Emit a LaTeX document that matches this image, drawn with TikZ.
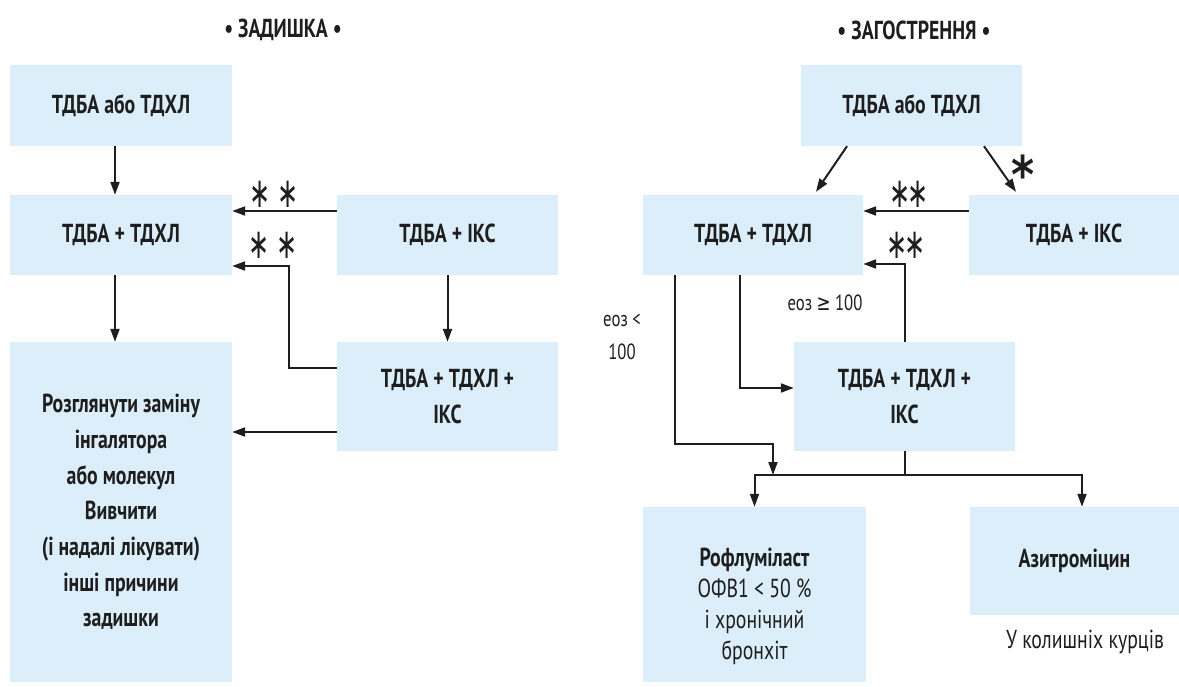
\documentclass[tikz,border=0pt]{standalone}
\usepackage{fontspec}
\setmainfont{PT Sans}[FakeStretch=0.76]
\newfontfamily\symfont{DejaVu Sans}[FakeStretch=0.76]
\newfontfamily\starfont{DejaVu Sans}[FakeStretch=0.6]
\newfontfamily\bigstarfont{DejaVu Sans}[FakeStretch=0.85]
\usetikzlibrary{arrows.meta,calc}
\definecolor{boxblue}{RGB}{220,238,250}
\definecolor{ink}{RGB}{30,30,30}
\tikzset{
 box/.style={fill=boxblue, draw=none, inner sep=0pt, align=center, text=ink,
   font=\bfseries\fontsize{26}{35.7}\selectfont},
 arr/.style={line width=2pt, draw=ink, -{Triangle[length=13pt,width=9pt]}},
 ln/.style={line width=2pt, draw=ink},
 lbl/.style={text=ink, font=\fontsize{22}{33}\selectfont, align=center, inner sep=0pt},
 ttl/.style={text=ink, font=\bfseries\fontsize{26}{30}\selectfont, inner sep=0pt},
 stars/.style={text=ink, font=\starfont\fontsize{42}{42}\selectfont, inner sep=0pt},
}
\begin{document}
\begin{tikzpicture}[x=1pt,y=-1pt]
\useasboundingbox (0,0) rectangle (1179,687);
% titles
\node[ttl] (t1) at (283,30) {• ЗАДИШКА •};
\node[ttl] (t2) at (914,30) {• ЗАГОСТРЕННЯ •};
% left boxes
\node[box, minimum width=222pt, minimum height=81pt] (A1) at (121,105.5) {ТДБА або ТДХЛ};
\node[box, minimum width=222pt, minimum height=80pt] (B1) at (121,235) {ТДБА + ТДХЛ};
\node[box, minimum width=221pt, minimum height=80pt] (K1) at (447.5,235) {ТДБА + ІКС};
\node[box, minimum width=222pt, minimum height=340pt] (Big) at (121,512)
  {Розглянути заміну\\інгалятора\\або молекул\\Вивчити\\(і надалі лікувати)\\інші причини\\задишки};
\node[box, minimum width=221pt, minimum height=109pt] (K2) at (447.5,396.5) {ТДБА + ТДХЛ +\\ІКС};
% right boxes
\node[box, minimum width=221pt, minimum height=81pt] (T2) at (911.5,105.5) {ТДБА або ТДХЛ};
\node[box, minimum width=220pt, minimum height=80pt] (B2) at (753,235) {ТДБА + ТДХЛ};
\node[box, minimum width=210pt, minimum height=80pt] (K3) at (1074,235) {ТДБА + ІКС};
\node[box, minimum width=221pt, minimum height=109pt] (K4) at (904.5,396.5) {ТДБА + ТДХЛ +\\ІКС};
\node[box, minimum width=223pt, minimum height=175pt] (Rofl) at (754.5,594.5) {};
\node[box, font=\fontsize{26}{31}\selectfont] (RoflT) at (754.5,606) {\textbf{Рофлуміласт}\\ОФВ1 < 50 \%\\і хронічний\\бронхіт};
\node[box, minimum width=209pt, minimum height=108pt] (Az) at (1074.5,561) {Азитроміцин};
\node[lbl, font=\fontsize{26}{30}\selectfont] (Azn) at (1085,642) {У колишніх курців};
% left connectors
\draw[arr] ([xshift=-6pt]A1.south) -- ([xshift=-6pt]B1.north);
\draw[arr] ([xshift=-6pt]B1.south) -- ([xshift=-6pt]Big.north);
\draw[arr] ([yshift=24pt]K1.west) -- ([yshift=24pt]B1.east);
\coordinate (c1) at (289,266);
\draw[arr] ([yshift=28.5pt]K2.west) -| (c1) -- (B1.east |- c1);
\draw[arr] (K1.south) -- (K2.north);
\draw[arr] ([yshift=-35.5pt]K2.west) -- ([yshift=-35.5pt]K2.west -| Big.east);
\node[stars] (s1) at (274,194) {∗\kern7pt∗};
\node[stars] (s2) at (273,245) {∗\kern7pt∗};
% right connectors
\draw[arr] ([xshift=-64.5pt]T2.south) -- ([xshift=63pt,yshift=3pt]B2.north);
\draw[arr] ([xshift=72.5pt]T2.south) -- ([xshift=-58pt,yshift=3pt]K3.north);
\node[text=ink, font=\bigstarfont\bfseries\fontsize{52}{52}\selectfont, inner sep=0pt] (s0) at (1023,174) {*};
\draw[arr] ([yshift=24pt]K3.west) -- ([yshift=24pt]B2.east);
\draw[arr] (K4.north) |- ([yshift=-29pt]B2.east);
\node[stars] (s3) at (909,194) {∗\kern-3pt∗};
\node[stars] (s4) at (906,245) {∗\kern-3pt∗};
\coordinate (j1) at (773,444);
\coordinate (br) at (904.5,475);
\draw[arr] ([xshift=-78pt]B2.south) |- (j1) -- (j1 |- br);
\draw[arr] ([xshift=-13pt]B2.south) |- ([yshift=8.5pt]K4.west);
\draw[ln] (K4.south) -- (br);
\draw[arr] (br) -| (Rofl.north);
\draw[arr] (br) -| ([xshift=7.5pt]Az.north);
\node[lbl] (e1) at (622,337) {еоз <\\100};
\node[lbl] (e2) at (825,303) {еоз {\symfont ≥} 100};
\end{tikzpicture}
\end{document}
